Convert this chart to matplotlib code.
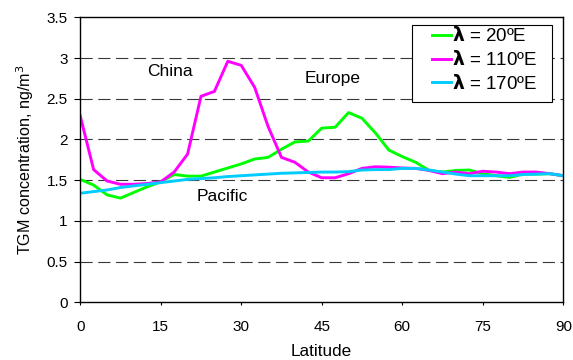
import matplotlib
matplotlib.use("Agg")
import matplotlib.pyplot as plt
from matplotlib.patches import Rectangle
import numpy as np

plt.rcParams['font.family'] = ['Liberation Sans', 'DejaVu Sans']

latitude = np.arange(0, 90.1, 2.5)
tgm_20E = [1.51, 1.44, 1.32, 1.28, 1.35, 1.42, 1.48, 1.57, 1.55, 1.55, 1.60, 1.65,
           1.70, 1.76, 1.78, 1.88, 1.97, 1.98, 2.14, 2.15, 2.33, 2.26, 2.08, 1.87,
           1.79, 1.72, 1.62, 1.60, 1.62, 1.625, 1.58, 1.555, 1.535, 1.575, 1.575,
           1.58, 1.555]
tgm_110E = [2.29, 1.63, 1.49, 1.45, 1.45, 1.46, 1.48, 1.60, 1.82, 2.53, 2.59, 2.96,
            2.91, 2.64, 2.16, 1.78, 1.72, 1.60, 1.53, 1.53, 1.58, 1.645, 1.665, 1.66,
            1.65, 1.645, 1.62, 1.58, 1.60, 1.58, 1.61, 1.60, 1.58, 1.60, 1.60, 1.58,
            1.555]
tgm_170E = [1.34, 1.36, 1.38, 1.41, 1.43, 1.45, 1.47, 1.49, 1.51, 1.52, 1.53, 1.545,
            1.555, 1.565, 1.575, 1.585, 1.59, 1.595, 1.60, 1.60, 1.605, 1.625, 1.63,
            1.63, 1.645, 1.645, 1.625, 1.60, 1.575, 1.555, 1.555, 1.555, 1.555, 1.57,
            1.575, 1.58, 1.555]
labels = [r'$\boldsymbol{\lambda}$ = 20ºE', r'$\boldsymbol{\lambda}$ = 110ºE',
          r'$\boldsymbol{\lambda}$ = 170ºE']
colors = ['#00FF00', '#FF00FF', '#00CCFF']
xticks = [0, 15, 30, 45, 60, 75, 90]
yticks = [0, 0.5, 1, 1.5, 2, 2.5, 3, 3.5]
ytick_labels = ['0', '0.5', '1', '1.5', '2', '2.5', '3', '3.5']

fig = plt.figure(figsize=(5.73, 3.6), dpi=100)
ax = fig.add_axes([0.140, 0.160, 0.843, 0.792])

for ys, lab, c in zip([tgm_20E, tgm_110E, tgm_170E], labels, colors):
    ax.plot(latitude, ys, color=c, lw=2.1, label=lab)

ax.set_xlim(0, 90)
ax.set_ylim(0, 3.5)
ax.set_xticks(xticks)
ax.set_yticks(yticks)
ax.set_yticklabels(ytick_labels)
for y in yticks[1:-1]:
    ax.axhline(y, color='#383838', lw=0.8, ls=(0, (11, 5)), zorder=0)
ax.tick_params(axis='x', direction='out', length=2.3, width=0.8, pad=10.5,
               labelsize=11, colors='black')
ax.tick_params(axis='y', direction='out', length=4.5, width=0.8, pad=4.5,
               labelsize=11, colors='black')
for s in ax.spines.values():
    s.set_linewidth(1.0)
    s.set_color('black')

ax.set_xlabel('Latitude', fontsize=12.3, labelpad=7.2)
ax.set_ylabel('TGM concentration, ng/m$^3$', fontsize=11.6, labelpad=7.5)

ax.text(16.8, 2.83, 'China', fontsize=12.5, ha='center', va='center')
ax.text(47.1, 2.75, 'Europe', fontsize=12.5, ha='center', va='center')
ax.text(26.4, 1.30, 'Pacific', fontsize=12.5, ha='center', va='center')

# legend box (drawn separately to match the wide horizontal padding)
ax.add_patch(Rectangle((0.686, 0.704), 0.291, 0.269, transform=ax.transAxes,
                       facecolor='white', edgecolor='black', lw=0.8, zorder=4))
leg = ax.legend(loc='upper left', bbox_to_anchor=(0.728, 0.968), fontsize=13.5,
                frameon=False, handlelength=1.0, handletextpad=0.05,
                borderpad=0.0, labelspacing=0.25, borderaxespad=0.0)
leg.set_zorder(5)

fig.savefig('out.png', dpi=100)
